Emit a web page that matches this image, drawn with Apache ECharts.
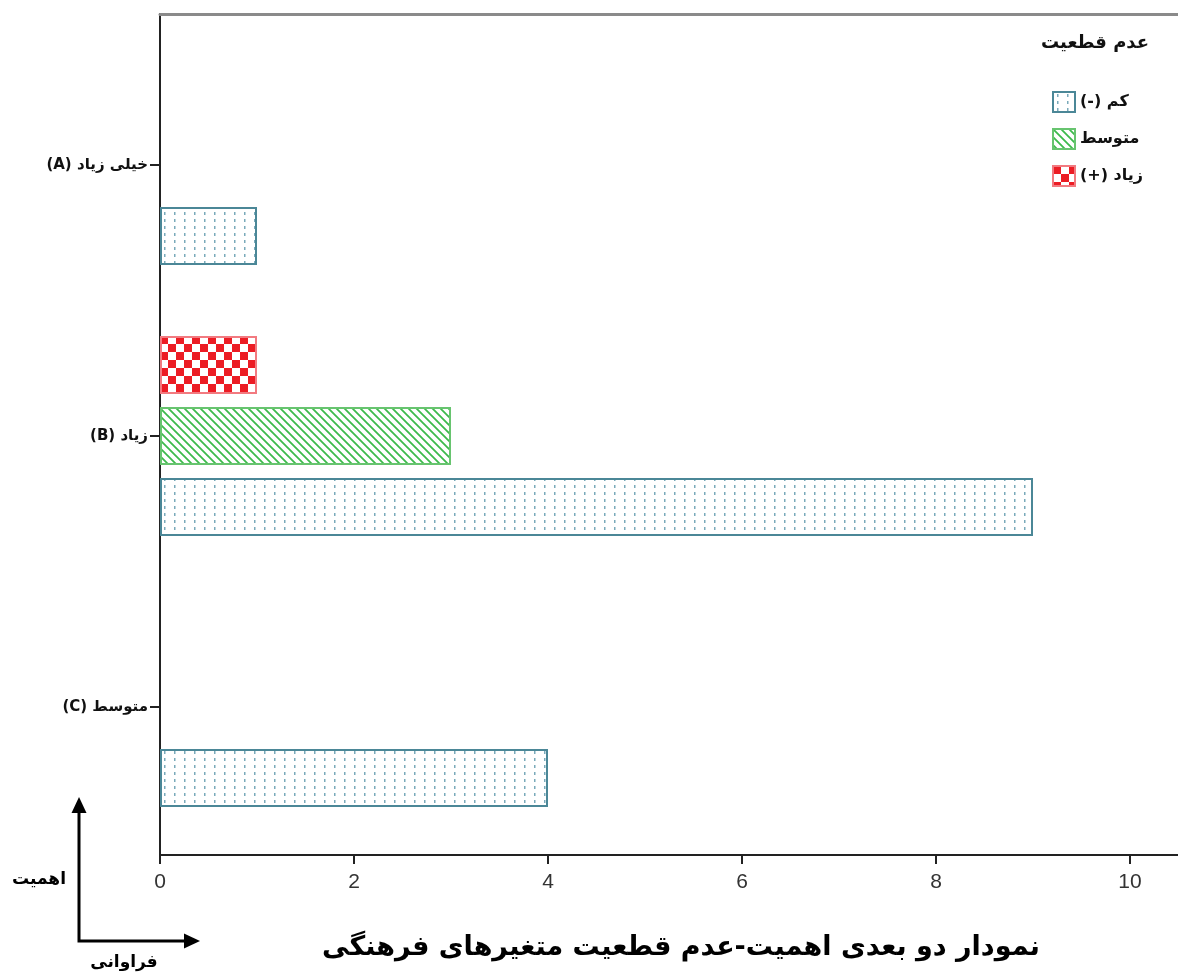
<!DOCTYPE html>
<html dir="rtl">
<head>
<meta charset="utf-8">
<script src="https://cdn.jsdelivr.net/npm/echarts@6/dist/echarts.min.js"></script>
<style>
html,body{margin:0;padding:0;background:#fff;}
#c{width:1178px;height:978px;position:absolute;left:0;top:0;}
</style>
</head>
<body>
<div id="c"></div>
<script>
// ---- data ----
var categories = ['خیلی زیاد (A)', 'زیاد (B)', 'متوسط (C)'];
var seriesNames = ['کم (-)', 'متوسط', 'زیاد (+)'];
var lowValues = [1, 9, 4];
var midValues = [null, 3, null];
var highValues = [null, 1, null];
var xTicks = [0, 2, 4, 6, 8, 10];
var legendTitle = 'عدم قطعیت';
var chartTitle = 'نمودار دو بعدی اهمیت-عدم قطعیت متغیرهای فرهنگی';
var yArrowLabel = 'اهمیت';
var xArrowLabel = 'فراوانی';

// ---- patterns ----
function makeDots() {
  var c = document.createElement('canvas'); c.width = 10; c.height = 7;
  var g = c.getContext('2d');
  g.fillStyle = '#ffffff'; g.fillRect(0, 0, 10, 7);
  g.fillStyle = '#7aaaba'; g.fillRect(4, 2, 1.5, 3);
  return c;
}
function makeHatch() {
  var s = 8;
  var c = document.createElement('canvas'); c.width = s; c.height = s;
  var g = c.getContext('2d');
  g.fillStyle = '#ffffff'; g.fillRect(0, 0, s, s);
  g.strokeStyle = '#3dba4c'; g.lineWidth = 1.8;
  g.beginPath();
  g.moveTo(-1, -1); g.lineTo(s + 1, s + 1);
  g.moveTo(-1 - s, -1); g.lineTo(1, s + 1);
  g.moveTo(s - 1, -1); g.lineTo(2 * s + 1, s + 1);
  g.stroke();
  return c;
}
function makeChecker() {
  var s = 8;
  var c = document.createElement('canvas'); c.width = 2 * s; c.height = 2 * s;
  var g = c.getContext('2d');
  g.fillStyle = '#ffffff'; g.fillRect(0, 0, 2 * s, 2 * s);
  g.fillStyle = '#ec1c24';
  g.fillRect(0, 0, s, s); g.fillRect(s, s, s, s);
  return c;
}
var dotPat = { image: makeDots(), repeat: 'repeat' };
var hatchPat = { image: makeHatch(), repeat: 'repeat' };
var checkPat = { image: makeChecker(), repeat: 'repeat' };

var PX_PER_UNIT = 97;
var GRID_W = 1028;
var xMax = GRID_W / PX_PER_UNIT;

var chart = echarts.init(document.getElementById('c'), null, { renderer: 'canvas' });

var barCommon = { type: 'bar', xAxisIndex: 0, yAxisIndex: 0, barWidth: 58, barGap: '22.4%', animation: false };

var option = {
  backgroundColor: '#ffffff',
  animation: false,
  grid: [
    { left: 160, width: GRID_W, top: 29.5, height: 813, containLabel: false, outerBoundsMode: 'none' },
    { left: 160, width: GRID_W, top: 14, height: 841, containLabel: false, outerBoundsMode: 'none' }
  ],
  xAxis: [
    { gridIndex: 0, type: 'value', min: 0, max: xMax, show: false },
    { gridIndex: 1, type: 'value', min: 0, max: xMax, interval: 2, position: 'bottom',
      axisLine: { show: true, lineStyle: { color: '#222', width: 2 } },
      axisTick: { show: true, length: 9, lineStyle: { color: '#222', width: 2 } },
      axisLabel: { show: true, showMaxLabel: false, margin: 17, color: '#333', fontSize: 21,
        fontFamily: 'Liberation Sans, Arial, sans-serif',
        formatter: function (v) { return xTicks.indexOf(v) >= 0 ? String(v) : ''; } },
      splitLine: { show: false } },
    { gridIndex: 1, type: 'value', min: 0, max: xMax, position: 'top',
      axisLine: { show: true, lineStyle: { color: '#8a8a8a', width: 3 } },
      axisTick: { show: false }, axisLabel: { show: false }, splitLine: { show: false } }
  ],
  yAxis: [
    { gridIndex: 0, type: 'category', data: categories, inverse: true,
      axisLine: { show: false },
      axisTick: { show: true, alignWithLabel: true, length: 10, lineStyle: { color: '#222', width: 2 } },
      axisLabel: { margin: 12, color: '#111', fontSize: 15, fontWeight: 'bold', fontFamily: 'DejaVu Sans, sans-serif' },
      splitLine: { show: false } },
    { gridIndex: 1, type: 'value', min: 0, max: 1,
      axisLine: { show: true, lineStyle: { color: '#222', width: 2 } },
      axisTick: { show: false }, axisLabel: { show: false }, splitLine: { show: false } }
  ],
  legend: {
    orient: 'vertical', left: 1047, top: 86, itemWidth: 22, itemHeight: 20, itemGap: 15,
    icon: 'rect',
    data: seriesNames,
    textStyle: { color: '#111', fontSize: 16, lineHeight: 20, fontWeight: 'bold', fontFamily: 'DejaVu Sans, sans-serif' }
  },
  series: [
    Object.assign({}, barCommon, { name: seriesNames[2], data: highValues,
      itemStyle: { color: checkPat, borderColor: '#f27a80', borderWidth: 2 } }),
    Object.assign({}, barCommon, { name: seriesNames[1], data: midValues,
      itemStyle: { color: hatchPat, borderColor: '#67c46f', borderWidth: 2 } }),
    Object.assign({}, barCommon, { name: seriesNames[0], data: lowValues,
      itemStyle: { color: dotPat, borderColor: '#4b8797', borderWidth: 2 } })
  ],
  graphic: [
    { type: 'text', x: 1095, y: 43, style: { text: legendTitle, fill: '#111', align: 'center', verticalAlign: 'middle', font: 'bold 18px "DejaVu Sans", sans-serif' } },
    { type: 'text', x: 681, y: 948, style: { text: chartTitle, fill: '#000', align: 'center', verticalAlign: 'middle', font: 'bold 27px "DejaVu Sans", sans-serif' } },
    { type: 'text', x: 39, y: 880, style: { text: yArrowLabel, fill: '#000', align: 'center', verticalAlign: 'middle', font: 'bold 17px "DejaVu Sans", sans-serif' } },
    { type: 'text', x: 124, y: 963, style: { text: xArrowLabel, fill: '#000', align: 'center', verticalAlign: 'middle', font: 'bold 17px "DejaVu Sans", sans-serif' } },
    { type: 'polyline', shape: { points: [[79, 812], [79, 941], [186, 941]] }, style: { stroke: '#000', lineWidth: 3, fill: null } },
    { type: 'polygon', shape: { points: [[79, 797], [71.5, 813], [86.5, 813]] }, style: { fill: '#000' } },
    { type: 'polygon', shape: { points: [[200, 941], [184, 933.5], [184, 948.5]] }, style: { fill: '#000' } }
  ]
};
chart.setOption(option);
</script>
</body>
</html>
